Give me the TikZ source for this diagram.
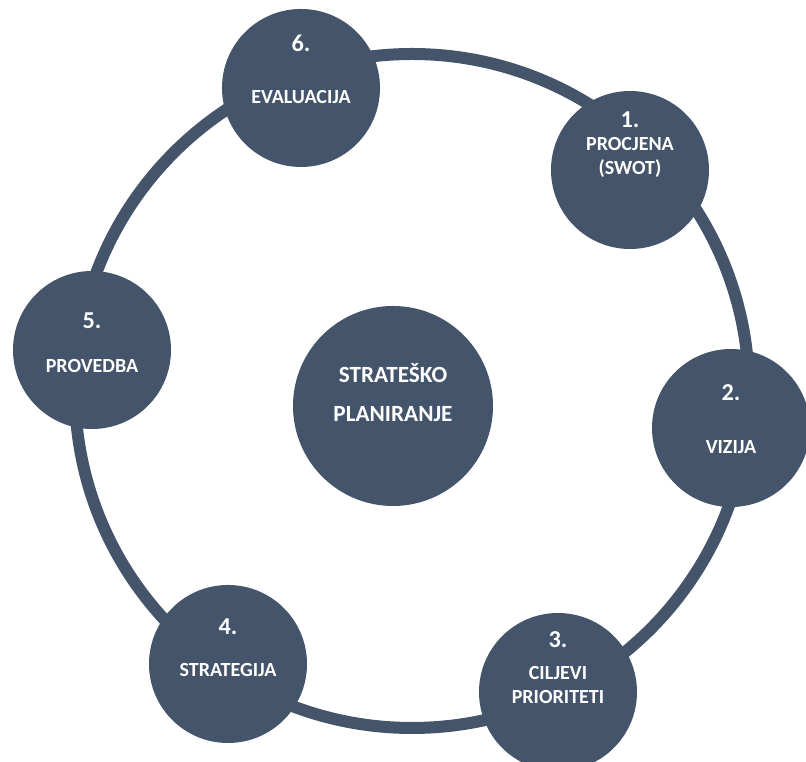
\documentclass[tikz,border=0pt]{standalone}
\usepackage{fontspec}
\setmainfont{Carlito}
\usepackage{tikz}
\usetikzlibrary{positioning, calc}
\definecolor{plan-slate}{HTML}{44546A}

\begin{document}
\begin{tikzpicture}[
    stage/.style={circle, fill=plan-slate, minimum size=5.267cm, inner sep=0pt},
    stagenum/.style={text=white, font=\fontsize{23}{26}\selectfont\bfseries},
    stagetxt/.style={text=white, align=center, font=\fontsize{19}{23.6}\selectfont\bfseries},
]
    \useasboundingbox (0,0) rectangle (26.867,25.4);

    % Outer cycle
    \coordinate (ring) at (13.733,12.367);
    \draw[plan-slate, line width=0.4cm] (ring) circle (11.233cm);

    % Core circle
    \node[circle, fill=plan-slate, minimum size=6.667cm] (core) at (13.1,11.867) {};
    \node[text=white, align=center, font=\fontsize{22}{36.9}\selectfont\bfseries] (core-txt)
        at ($(core)+(0,0.45)$) {STRATEŠKO\\PLANIRANJE};

    % Stages
    \foreach \id/\pos/\num/\numdy/\txtdy/\txt in {
        6/{10.033,22.467}/6./1.5/-0.3/{EVALUACIJA},
        1/{21.0,19.733}/1./1.667/0.417/{PROCJENA\\(SWOT)},
        2/{24.367,11.133}/2./1.167/-0.633/{VIZIJA},
        3/{18.6,2.333}/3./1.733/0.233/{CILJEVI\\PRIORITETI},
        4/{7.6,3.267}/4./1.233/-0.2/{STRATEGIJA},
        5/{3.067,13.733}/5./0.967/-0.533/{PROVEDBA}} {
        \node[stage] (s\id) at (\pos) {};
        \node[stagenum] (s\id-num) at ($(s\id)+(0,\numdy)$) {\num};
        \node[stagetxt] (s\id-txt) at ($(s\id)+(0,\txtdy)$) {\txt};
    }
\end{tikzpicture}
\end{document}
